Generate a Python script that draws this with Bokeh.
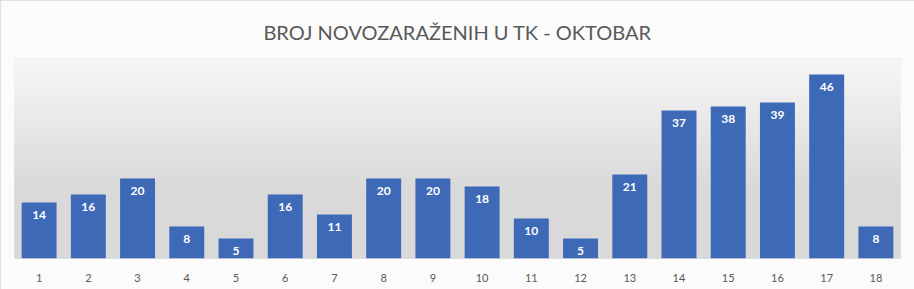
from bokeh.plotting import figure
from bokeh.models import FactorRange, ColumnDataSource, BoxAnnotation
from bokeh.embed import file_html
from bokeh.resources import INLINE
from bokeh.core.properties import value

days = [str(i) for i in range(1, 19)]
cases = [14, 16, 20, 8, 5, 16, 11, 20, 20, 18, 10, 5, 21, 37, 38, 39, 46, 8]
title_text = "BROJ NOVOZARAŽENIH U TK - OKTOBAR"

src = ColumnDataSource(dict(day=days, cases=cases, label=[str(v) for v in cases]))

p = figure(width=914, height=289, x_range=FactorRange(*days, range_padding=0),
           y_range=(0, 50), output_backend="svg", toolbar_location=None,
           min_border_left=14, min_border_right=14, min_border_top=58,
           min_border_bottom=31)
p.styles = {"outline": "1px solid #d9d9d9", "outline-offset": "-1px"}
p.title.text = title_text
p.title.align = "center"
p.title.text_font = "Lato"
p.title.text_font_style = "normal"
p.title.text_font_size = "20px"
p.title.text_color = "#595959"
p.title.standoff = 30

p.border_fill_color = "#fbfbfb"
p.background_fill_color = "#d9d9d9"
p.outline_line_color = None

# vertical background gradient (near white → light gray), overlapping boxes avoid seams
steps = 30
for i in range(steps):
    hi = 50 - i * 33 / steps
    g = int(0xf6 - (0xf6 - 0xd9) * (i / (steps - 1)))
    p.add_layout(BoxAnnotation(bottom=0, top=hi, fill_color="#%02x%02x%02x" % (g, g, g),
                               fill_alpha=1, line_color=None, level="underlay"))

p.vbar(x="day", top="cases", width=0.71, source=src, fill_color="#3d69b7", line_color=None)
p.text(x="day", y="cases", text="label", source=src, text_color="white",
       text_font=value("Lato"), text_font_style="bold", text_font_size="12px",
       text_align="center", text_baseline="top", y_offset=8)

p.yaxis.visible = False
p.xgrid.grid_line_color = None
p.ygrid.grid_line_color = None
p.xaxis.axis_line_color = None
p.xaxis.major_tick_line_color = None
p.xaxis.minor_tick_line_color = None
p.xaxis.major_label_text_color = "#595959"
p.xaxis.major_label_text_font = "Lato"
p.xaxis.major_label_text_font_size = "11px"
p.xaxis.major_label_standoff = 9

open("out.html", "w").write(file_html(p, INLINE))
